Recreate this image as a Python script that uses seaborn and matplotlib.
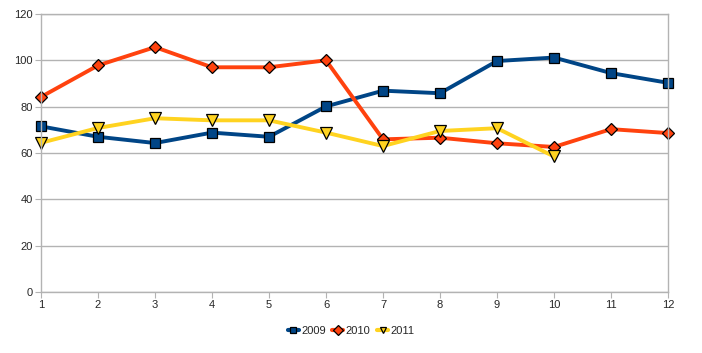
import seaborn as sns
import pandas as pd
import matplotlib.pyplot as plt

months = list(range(1, 13))
y2009 = [71.5, 67.0, 64.3, 68.8, 67.0, 80.1, 86.9, 85.8, 99.7, 101.2, 94.5, 90.3]
y2010 = [84.2, 97.8, 105.7, 97.0, 97.0, 100.0, 65.9, 66.6, 64.2, 62.6, 70.3, 68.6]
y2011 = [64.4, 70.8, 75.0, 74.1, 74.1, 68.8, 63.0, 69.5, 70.7, 58.5]
years = ['2009', '2010', '2011']

df = pd.concat([
    pd.DataFrame({'month': months, 'value': y2009, 'year': '2009'}),
    pd.DataFrame({'month': months, 'value': y2010, 'year': '2010'}),
    pd.DataFrame({'month': months[:len(y2011)], 'value': y2011, 'year': '2011'}),
])

sns.set_style('white')
plt.rcParams['font.family'] = ['Liberation Sans', 'DejaVu Sans']

fig = plt.figure(figsize=(7.02, 3.53), dpi=100)
ax = fig.add_axes([41 / 702, 1 - 292 / 353, (668 - 41) / 702, (292 - 14) / 353])

palette = {'2009': '#004586', '2010': '#ff420e', '2011': '#ffd320'}
markers = {'2009': 's', '2010': 'D', '2011': 'v'}
msize = {'s': 7.5, 'D': 6.0, 'v': 8.0}

sns.lineplot(data=df, x='month', y='value', hue='year', style='year',
             palette=palette, markers=markers, dashes=False, linewidth=2.8,
             markersize=7.5, markeredgecolor='black', markeredgewidth=0.9,
             ax=ax, legend='full')

for line in ax.get_lines():
    m = line.get_marker()
    if m in msize:
        line.set_markersize(msize[m])
    line.set_clip_on(False)

ax.set_xlim(1, 12)
ax.set_ylim(0, 120)
ax.set_xticks(months)
ax.set_yticks(range(0, 121, 20))
ax.grid(axis='y', color='#b3b3b3', linewidth=1)
ax.set_axisbelow(True)
for s in ax.spines.values():
    s.set_color('#b3b3b3')
    s.set_linewidth(1)
ax.tick_params(axis='both', labelsize=8, color='#b3b3b3', length=4,
               direction='out', left=True, bottom=True, pad=2)
ax.set_xlabel('')
ax.set_ylabel('')

handles, labels = ax.get_legend_handles_labels()
pairs = [(h, l) for h, l in zip(handles, labels) if l in years]
ax.get_legend().remove()
for h, _ in pairs:
    h.set_markersize(5)
    h.set_linewidth(3)
fig.legend([p[0] for p in pairs], [p[1] for p in pairs], loc='center',
           bbox_to_anchor=(0.5, 1 - 331 / 353), ncol=3, frameon=False,
           fontsize=8, handlelength=1.0, handletextpad=0.2, columnspacing=0.6)

fig.savefig('out.png', dpi=100)
